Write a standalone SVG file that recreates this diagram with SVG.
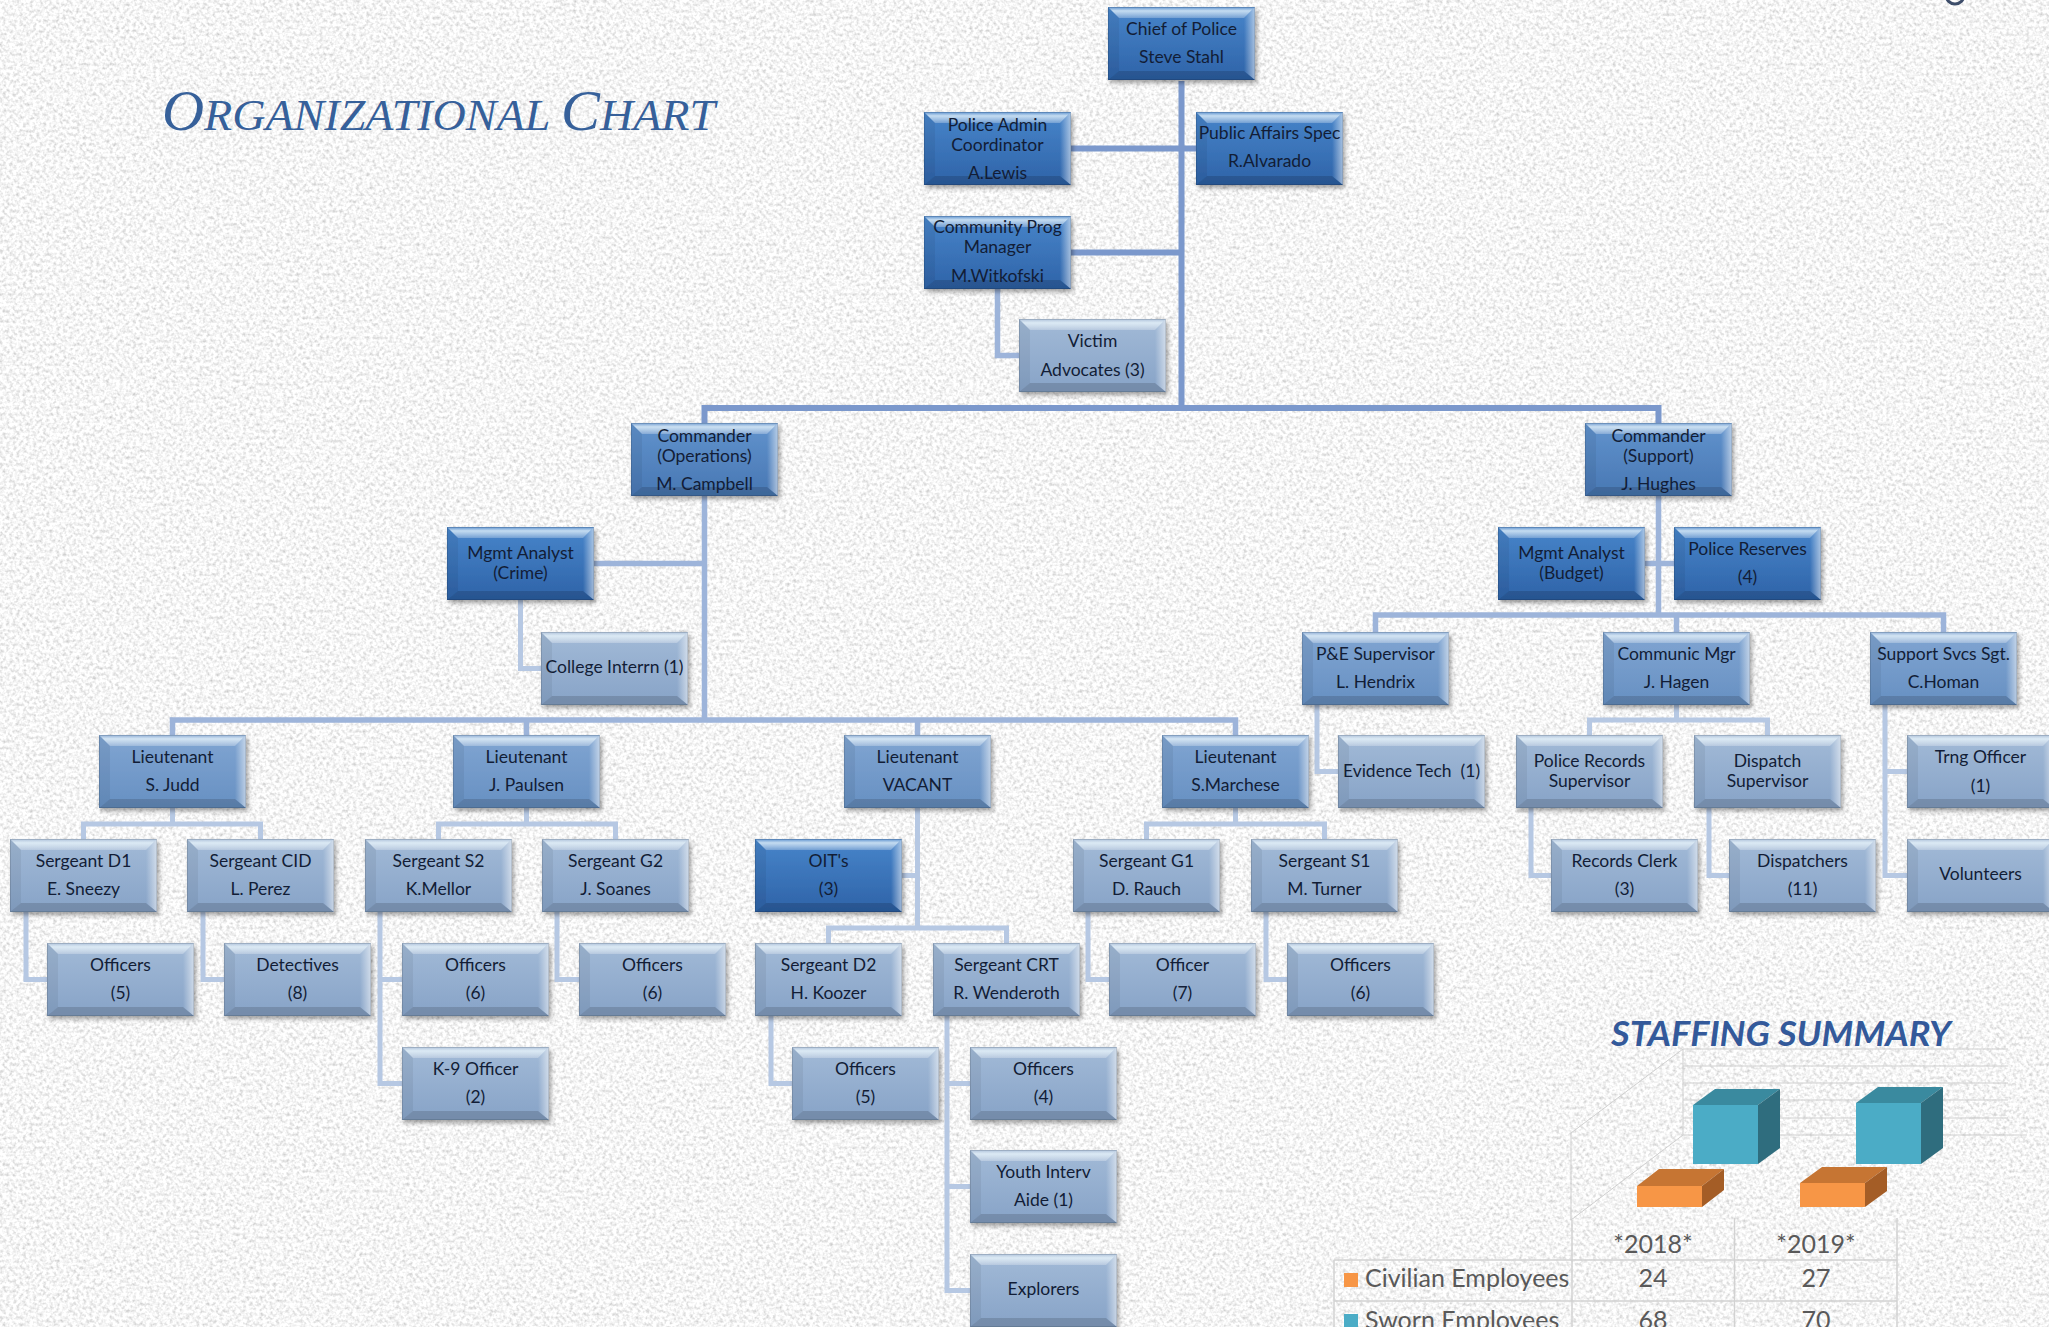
<svg xmlns="http://www.w3.org/2000/svg" width="2049" height="1327" viewBox="0 0 2049 1327">
<style>
.t{font-family:Lato,"Liberation Sans",sans-serif;font-size:17.5px;fill:#121d36;text-anchor:middle}
.c1{fill:none;stroke:#7b98cc;stroke-width:6}
.c2{fill:none;stroke:#9db4da;stroke-width:5.5}
.c3{fill:none;stroke:#b6c8e3;stroke-width:5}
.grid{fill:none;stroke:#cfcfcf;stroke-width:1}
.tbl{fill:none;stroke:#d2d2d2;stroke-width:1.5}
.tt{font-family:Lato,"Liberation Sans",sans-serif;font-size:25px;fill:#595959}
</style>
<defs>
<filter id="tex" x="0" y="0" width="100%" height="100%">
<feTurbulence type="fractalNoise" baseFrequency="0.3" numOctaves="2" seed="7" result="n"/>
<feColorMatrix in="n" type="matrix" values="1 0 0 0 0 1 0 0 0 0 1 0 0 0 0 0 0 0 0 1"/>
<feComponentTransfer>
<feFuncR type="linear" slope="0.8" intercept="0.52"/>
<feFuncG type="linear" slope="0.8" intercept="0.52"/>
<feFuncB type="linear" slope="0.8" intercept="0.52"/>
</feComponentTransfer>
</filter>
<filter id="sh" x="-10%" y="-15%" width="125%" height="140%">
<feDropShadow dx="2" dy="3" stdDeviation="2" flood-color="#000" flood-opacity="0.35"/>
</filter>
<linearGradient id="gA" x1="0" y1="0" x2="0" y2="1"><stop offset="0" stop-color="#4885ca"/><stop offset="1" stop-color="#2e63a8"/></linearGradient>
<linearGradient id="gB" x1="0" y1="0" x2="0" y2="1"><stop offset="0" stop-color="#6193cd"/><stop offset="1" stop-color="#4877b3"/></linearGradient>
<linearGradient id="gC" x1="0" y1="0" x2="0" y2="1"><stop offset="0" stop-color="#80a5d2"/><stop offset="1" stop-color="#6790c2"/></linearGradient>
<linearGradient id="gD" x1="0" y1="0" x2="0" y2="1"><stop offset="0" stop-color="#a2bad7"/><stop offset="1" stop-color="#87a3c7"/></linearGradient>
<linearGradient id="gTop" x1="0" y1="0" x2="0" y2="1"><stop offset="0" stop-color="#ffffff" stop-opacity="0.1"/><stop offset="0.35" stop-color="#eefaff" stop-opacity="0.75"/><stop offset="1" stop-color="#ffffff" stop-opacity="0.25"/></linearGradient>
<linearGradient id="gRight" x1="0" y1="0" x2="1" y2="0"><stop offset="0" stop-color="#ffffff" stop-opacity="0"/><stop offset="1" stop-color="#ffffff" stop-opacity="0.55"/></linearGradient>
<g id="bevel">
<polygon points="0,0 147,0 136,11 11,11" fill="url(#gTop)"/>
<polygon points="0,0 11,11 11,64 0,73" fill="#000" fill-opacity="0.06"/>
<polygon points="147,0 147,73 136,64 136,11" fill="url(#gRight)"/>
<polygon points="0,73 11,64 136,64 147,73" fill="#000" fill-opacity="0.14"/>
<rect x="0.5" y="0.5" width="146" height="72" fill="none" stroke="#000" stroke-opacity="0.12"/>
</g>
<g id="bA"><rect width="147" height="73" fill="url(#gA)"/><use href="#bevel"/></g>
<g id="bB"><rect width="147" height="73" fill="url(#gB)"/><use href="#bevel"/></g>
<g id="bC"><rect width="147" height="73" fill="url(#gC)"/><use href="#bevel"/></g>
<g id="bD"><rect width="147" height="73" fill="url(#gD)"/><use href="#bevel"/></g>
</defs>

<rect width="2049" height="1327" fill="#e9e9e9"/>
<rect width="2049" height="1327" fill="#fff" filter="url(#tex)"/>

<g id="title">
<text x="162" y="130" textLength="553" lengthAdjust="spacingAndGlyphs" style="font-family:'Liberation Serif',serif;font-style:italic;fill:#36609a"><tspan font-size="57">O</tspan><tspan font-size="45">RGANIZATIONAL </tspan><tspan font-size="57">C</tspan><tspan font-size="45">HART</tspan></text>
</g>

<circle cx="1955" cy="-5" r="9" fill="none" stroke="#3d4d6a" stroke-width="3"/>

<g id="connectors">
<path class="c1" d="M1181.5,81 V408 M704.5,423 V408 H1658.5 V423 M1071,148.5 H1196 M1071,252.5 H1181.5"/>
<path class="c2" d="M997.5,289 V355.5 H1019 M704.5,496 V720 M594,563.5 H704.5 M172.5,735 V720 H1235.5 V735 M526.5,720 V735 M917.5,720 V735 M1658.5,496 V615 M1645,563.5 H1674 M1375.5,632 V615 H1943.5 V632 M1676.5,615 V632"/>
<path class="c3" d="M520.5,600 V668.5 H541
M172.5,808 V824 M83.5,839 V824 H260.5 V839
M526.5,808 V824 M438.5,839 V824 H615.5 V839
M917.5,808 V928 M902,875.5 H917.5 M828.5,943 V928 H1006.5 V943
M1235.5,808 V824 M1146.5,839 V824 H1324.5 V839
M26,912 V979.5 H47
M203,912 V979.5 H224
M380,912 V1083.5 H402 M380,979.5 H402
M557,912 V979.5 H579
M771,1016 V1083.5 H792
M947,1016 V1290.5 H970 M947,1083.5 H970 M947,1186.5 H970
M1088,912 V979.5 H1109
M1266,912 V979.5 H1287
M1317,704 V771.5 H1338
M1676.5,704 V720 M1589.5,735 V720 H1767.5 V735
M1531,808 V875.5 H1551
M1709,808 V875.5 H1729
M1885,704 V875.5 H1907 M1885,771.5 H1907"/>
</g>

<g id="n-chief"><use href="#bA" x="1108" y="7" filter="url(#sh)"/><text class="t" x="1181.5" y="35">Chief of Police</text><text class="t" x="1181.5" y="63">Steve Stahl</text></g>
<g id="n-admin"><use href="#bA" x="924" y="112" filter="url(#sh)"/><text class="t" x="997.5" y="131">Police Admin</text><text class="t" x="997.5" y="151">Coordinator</text><text class="t" x="997.5" y="179">A.Lewis</text></g>
<g id="n-pubaff"><use href="#bA" x="1196" y="112" filter="url(#sh)"/><text class="t" x="1269.5" y="139">Public Affairs Spec</text><text class="t" x="1269.5" y="167">R.Alvarado</text></g>
<g id="n-community"><use href="#bA" x="924" y="216" filter="url(#sh)"/><text class="t" x="997.5" y="233">Community Prog</text><text class="t" x="997.5" y="253">Manager</text><text class="t" x="997.5" y="282">M.Witkofski</text></g>
<g id="n-victim"><use href="#bD" x="1019" y="319" filter="url(#sh)"/><text class="t" x="1092.5" y="347">Victim</text><text class="t" x="1092.5" y="376">Advocates (3)</text></g>
<g id="n-cmdops"><use href="#bB" x="631" y="423" filter="url(#sh)"/><text class="t" x="704.5" y="442">Commander</text><text class="t" x="704.5" y="462">(Operations)</text><text class="t" x="704.5" y="490">M. Campbell</text></g>
<g id="n-cmdsup"><use href="#bB" x="1585" y="423" filter="url(#sh)"/><text class="t" x="1658.5" y="442">Commander</text><text class="t" x="1658.5" y="462">(Support)</text><text class="t" x="1658.5" y="490">J. Hughes</text></g>
<g id="n-mgmtcrime"><use href="#bA" x="447" y="527" filter="url(#sh)"/><text class="t" x="520.5" y="559">Mgmt Analyst</text><text class="t" x="520.5" y="579">(Crime)</text></g>
<g id="n-intern"><use href="#bD" x="541" y="632" filter="url(#sh)"/><text class="t" x="614.5" y="673">College Interrn (1)</text></g>
<g id="n-mgmtbud"><use href="#bA" x="1498" y="527" filter="url(#sh)"/><text class="t" x="1571.5" y="559">Mgmt Analyst</text><text class="t" x="1571.5" y="579">(Budget)</text></g>
<g id="n-reserves"><use href="#bA" x="1674" y="527" filter="url(#sh)"/><text class="t" x="1747.5" y="555">Police Reserves</text><text class="t" x="1747.5" y="583">(4)</text></g>
<g id="n-pe"><use href="#bC" x="1302" y="632" filter="url(#sh)"/><text class="t" x="1375.5" y="660">P&amp;E Supervisor</text><text class="t" x="1375.5" y="688">L. Hendrix</text></g>
<g id="n-commmgr"><use href="#bC" x="1603" y="632" filter="url(#sh)"/><text class="t" x="1676.5" y="660">Communic Mgr</text><text class="t" x="1676.5" y="688">J. Hagen</text></g>
<g id="n-supsgt"><use href="#bC" x="1870" y="632" filter="url(#sh)"/><text class="t" x="1943.5" y="660">Support Svcs Sgt.</text><text class="t" x="1943.5" y="688">C.Homan</text></g>
<g id="n-evid"><use href="#bD" x="1338" y="735" filter="url(#sh)"/><text class="t" x="1411.5" y="777" xml:space="preserve">Evidence Tech  (1)</text></g>
<g id="n-recsup"><use href="#bD" x="1516" y="735" filter="url(#sh)"/><text class="t" x="1589.5" y="767">Police Records</text><text class="t" x="1589.5" y="787">Supervisor</text></g>
<g id="n-dispsup"><use href="#bD" x="1694" y="735" filter="url(#sh)"/><text class="t" x="1767.5" y="767">Dispatch</text><text class="t" x="1767.5" y="787">Supervisor</text></g>
<g id="n-trng"><use href="#bD" x="1907" y="735" filter="url(#sh)"/><text class="t" x="1980.5" y="763">Trng Officer</text><text class="t" x="1980.5" y="792">(1)</text></g>
<g id="n-recclerk"><use href="#bD" x="1551" y="839" filter="url(#sh)"/><text class="t" x="1624.5" y="867">Records Clerk</text><text class="t" x="1624.5" y="895">(3)</text></g>
<g id="n-dispatchers"><use href="#bD" x="1729" y="839" filter="url(#sh)"/><text class="t" x="1802.5" y="867">Dispatchers</text><text class="t" x="1802.5" y="895">(11)</text></g>
<g id="n-volunteers"><use href="#bD" x="1907" y="839" filter="url(#sh)"/><text class="t" x="1980.5" y="880">Volunteers</text></g>
<g id="n-ltjudd"><use href="#bC" x="99" y="735" filter="url(#sh)"/><text class="t" x="172.5" y="763">Lieutenant</text><text class="t" x="172.5" y="791">S. Judd</text></g>
<g id="n-ltpaulsen"><use href="#bC" x="453" y="735" filter="url(#sh)"/><text class="t" x="526.5" y="763">Lieutenant</text><text class="t" x="526.5" y="791">J. Paulsen</text></g>
<g id="n-ltvacant"><use href="#bC" x="844" y="735" filter="url(#sh)"/><text class="t" x="917.5" y="763">Lieutenant</text><text class="t" x="917.5" y="791">VACANT</text></g>
<g id="n-ltmarchese"><use href="#bC" x="1162" y="735" filter="url(#sh)"/><text class="t" x="1235.5" y="763">Lieutenant</text><text class="t" x="1235.5" y="791">S.Marchese</text></g>
<g id="n-sgtd1"><use href="#bD" x="10" y="839" filter="url(#sh)"/><text class="t" x="83.5" y="867">Sergeant D1</text><text class="t" x="83.5" y="895">E. Sneezy</text></g>
<g id="n-sgtcid"><use href="#bD" x="187" y="839" filter="url(#sh)"/><text class="t" x="260.5" y="867">Sergeant CID</text><text class="t" x="260.5" y="895">L. Perez</text></g>
<g id="n-sgts2"><use href="#bD" x="365" y="839" filter="url(#sh)"/><text class="t" x="438.5" y="867">Sergeant S2</text><text class="t" x="438.5" y="895">K.Mellor</text></g>
<g id="n-sgtg2"><use href="#bD" x="542" y="839" filter="url(#sh)"/><text class="t" x="615.5" y="867">Sergeant G2</text><text class="t" x="615.5" y="895">J. Soanes</text></g>
<g id="n-oits"><use href="#bA" x="755" y="839" filter="url(#sh)"/><text class="t" x="828.5" y="867">OIT's</text><text class="t" x="828.5" y="895">(3)</text></g>
<g id="n-sgtg1"><use href="#bD" x="1073" y="839" filter="url(#sh)"/><text class="t" x="1146.5" y="867">Sergeant G1</text><text class="t" x="1146.5" y="895">D. Rauch</text></g>
<g id="n-sgts1"><use href="#bD" x="1251" y="839" filter="url(#sh)"/><text class="t" x="1324.5" y="867">Sergeant S1</text><text class="t" x="1324.5" y="895">M. Turner</text></g>
<g id="n-off5"><use href="#bD" x="47" y="943" filter="url(#sh)"/><text class="t" x="120.5" y="971">Officers</text><text class="t" x="120.5" y="999">(5)</text></g>
<g id="n-det"><use href="#bD" x="224" y="943" filter="url(#sh)"/><text class="t" x="297.5" y="971">Detectives</text><text class="t" x="297.5" y="999">(8)</text></g>
<g id="n-offs2"><use href="#bD" x="402" y="943" filter="url(#sh)"/><text class="t" x="475.5" y="971">Officers</text><text class="t" x="475.5" y="999">(6)</text></g>
<g id="n-offg2"><use href="#bD" x="579" y="943" filter="url(#sh)"/><text class="t" x="652.5" y="971">Officers</text><text class="t" x="652.5" y="999">(6)</text></g>
<g id="n-sgtd2"><use href="#bD" x="755" y="943" filter="url(#sh)"/><text class="t" x="828.5" y="971">Sergeant D2</text><text class="t" x="828.5" y="999">H. Koozer</text></g>
<g id="n-sgtcrt"><use href="#bD" x="933" y="943" filter="url(#sh)"/><text class="t" x="1006.5" y="971">Sergeant CRT</text><text class="t" x="1006.5" y="999">R. Wenderoth</text></g>
<g id="n-off7"><use href="#bD" x="1109" y="943" filter="url(#sh)"/><text class="t" x="1182.5" y="971">Officer</text><text class="t" x="1182.5" y="999">(7)</text></g>
<g id="n-offs1"><use href="#bD" x="1287" y="943" filter="url(#sh)"/><text class="t" x="1360.5" y="971">Officers</text><text class="t" x="1360.5" y="999">(6)</text></g>
<g id="n-k9"><use href="#bD" x="402" y="1047" filter="url(#sh)"/><text class="t" x="475.5" y="1075">K-9 Officer</text><text class="t" x="475.5" y="1103">(2)</text></g>
<g id="n-offd2"><use href="#bD" x="792" y="1047" filter="url(#sh)"/><text class="t" x="865.5" y="1075">Officers</text><text class="t" x="865.5" y="1103">(5)</text></g>
<g id="n-off4"><use href="#bD" x="970" y="1047" filter="url(#sh)"/><text class="t" x="1043.5" y="1075">Officers</text><text class="t" x="1043.5" y="1103">(4)</text></g>
<g id="n-youth"><use href="#bD" x="970" y="1150" filter="url(#sh)"/><text class="t" x="1043.5" y="1178">Youth Interv</text><text class="t" x="1043.5" y="1206">Aide (1)</text></g>
<g id="n-explorers"><use href="#bD" x="970" y="1254" filter="url(#sh)"/><text class="t" x="1043.5" y="1295">Explorers</text></g>

<g id="staffing">
<text x="1611" y="1046" textLength="340" lengthAdjust="spacingAndGlyphs" style="font-family:Lato,'Liberation Sans',sans-serif;font-weight:bold;font-style:italic;font-size:35px;fill:#33599a">STAFFING SUMMARY</text>
<path class="grid" d="M1683,1049 H2008 M1683,1066 H2008 M1683,1083 H2008 M1683,1100 H2008 M1683,1118 H2008 M1683,1135 H2027 M1571,1133 L1683,1049 M1571,1220 L1683,1135 M1571,1133 V1220 M1683,1049 V1135"/>
<polygon points="1693,1105 1758,1105 1780,1089 1715,1089" fill="#3a8a9f"/>
<polygon points="1758,1105 1780,1089 1780,1148 1758,1164" fill="#2f6d7e"/>
<rect x="1693" y="1105" width="65" height="59" fill="#4bacc6"/>
<polygon points="1856,1103 1921,1103 1943,1087 1878,1087" fill="#3a8a9f"/>
<polygon points="1921,1103 1943,1087 1943,1148 1921,1164" fill="#2f6d7e"/>
<rect x="1856" y="1103" width="65" height="61" fill="#4bacc6"/>
<polygon points="1637,1186 1702,1186 1724,1169 1659,1169" fill="#c67533"/>
<polygon points="1702,1186 1724,1169 1724,1190 1702,1207" fill="#a45d26"/>
<rect x="1637" y="1186" width="65" height="21" fill="#f79646"/>
<polygon points="1800,1183 1865,1183 1887,1167 1822,1167" fill="#c67533"/>
<polygon points="1865,1183 1887,1167 1887,1191 1865,1207" fill="#a45d26"/>
<rect x="1800" y="1183" width="65" height="24" fill="#f79646"/>
<path class="tbl" d="M1334,1260 H1897 M1334,1301 H1897 M1334,1260 V1327 M1572,1220 V1327 M1734.5,1218 V1327 M1897,1218 V1327"/>
<text class="tt" x="1653" y="1253" text-anchor="middle">*2018*</text>
<text class="tt" x="1816" y="1253" text-anchor="middle">*2019*</text>
<rect x="1344" y="1273" width="14" height="14" fill="#f79646"/>
<text class="tt" x="1365" y="1287">Civilian Employees</text>
<text class="tt" x="1653" y="1287" text-anchor="middle">24</text>
<text class="tt" x="1816" y="1287" text-anchor="middle">27</text>
<rect x="1344" y="1314" width="14" height="14" fill="#4bacc6"/>
<text class="tt" x="1365" y="1329">Sworn Employees</text>
<text class="tt" x="1653" y="1329" text-anchor="middle">68</text>
<text class="tt" x="1816" y="1329" text-anchor="middle">70</text>
</g>
</svg>
